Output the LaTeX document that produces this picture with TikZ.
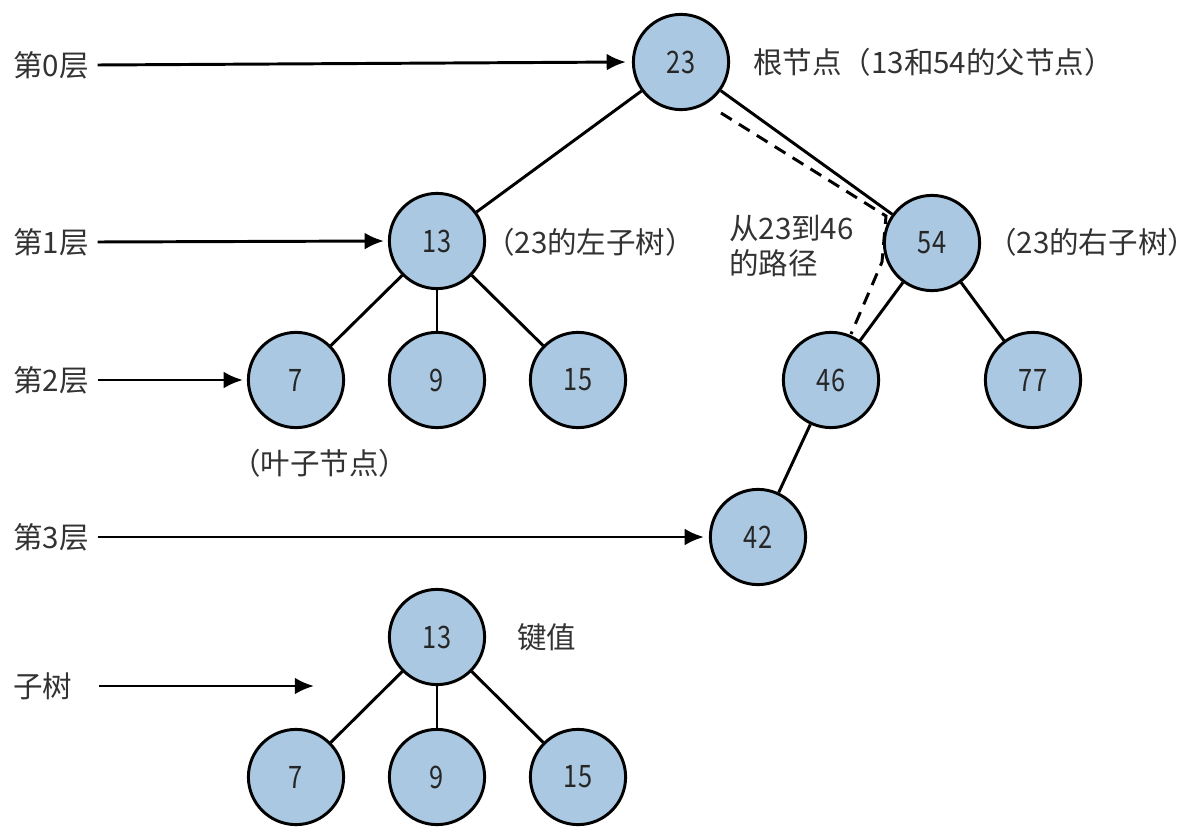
\documentclass[tikz,border=0pt]{standalone}
\usepackage{fontspec}
\setmainfont{Noto Sans CJK SC}
\newfontfamily\keyfont[FakeStretch=0.82]{Noto Sans CJK SC}
\usetikzlibrary{arrows.meta,calc}
\definecolor{keyblue}{RGB}{170,200,225}
\definecolor{txtgray}{RGB}{50,50,50}
\tikzset{
    key/.style={circle,draw=black,line width=2.1pt,fill=keyblue,minimum size=2.38cm,
      inner sep=0pt,text=black!85,font=\keyfont\fontsize{22}{24}\selectfont},
    edge/.style={line width=2.1pt},
    path dash/.style={line width=2.1pt,dash pattern=on 9pt off 6pt},
    levelarrow/.style={line width=2.1pt,-{Latex[length=0.48cm,width=0.42cm]}},
    note/.style={anchor=west,inner sep=2pt,text=txtgray,font=\fontsize{21}{25}\selectfont},
  }
\begin{document}
\begin{tikzpicture}[x=0.025cm,y=-0.025cm]
				  \useasboundingbox (0,0) rectangle (1203,827);
				  %NOEUDS
				  \node[key] (n23) at (681,62) {23};
				  \node[key] (n13) at (437,241) {13};
				  \node[key] (n54) at (932,243) {54};
				  \node[key] (n7) at (296,380) {7};
				  \node[key] (n9) at (437,380) {9};
				  \node[key] (n15) at (578,380) {15};
				  \node[key] (n46) at (831,380) {46};
				  \node[key] (n77) at (1033,380) {77};
				  \node[key] (n42) at (758,537) {42};
				  %ARETES
				  \draw[edge] (n23) -- (n13);
				  \draw[edge] (n23) -- (n54);
				  \draw[edge] (n13) -- (n7);
				  \draw[edge] (n13) -- (n9);
				  \draw[edge] (n13) -- (n15);
				  \draw[edge] (n54) -- (n46);
				  \draw[edge] (n54) -- (n77);
				  \draw[edge] (n46) -- (n42);
				  %CHEMIN 23 -> 46
				  \coordinate (p1) at (721,113);
				  \coordinate (p2) at (886,216);
				  \coordinate (p3) at (882,262);
				  \coordinate (p4) at (851,334);
				  \draw[path dash] (p1) -- (p2) -- (p3) -- (p4);
				  %NIVEAUX
				  \node[note] (l0) at (10,65) {第0层};
				  \node[note] (l1) at (10,242) {第1层};
				  \node[note] (l2) at (10,380) {第2层};
				  \node[note] (l3) at (10,537) {第3层};
				  \draw[levelarrow] ($(l0.east)+(6,0)$) -- ($(n23.west)+(-6,0)$);
				  \draw[levelarrow] ($(l1.east)+(6,0)$) -- ($(n13.west)+(-4,0)$);
				  \draw[levelarrow] ($(l2.east)+(6,0)$) -- ($(n7.west)+(-4,0)$);
				  \draw[levelarrow] ($(l3.east)+(6,0)$) -- ($(n42.west)+(-5,0)$);
				  %TEXTES
				  \node[note] (root) at (750,62) {根节点（13和54的父节点）};
				  \node[note] (left) at (482,242) {（23的左子树）};
				  \node[note] (right) at (984,242) {（23的右子树）};
				  \node[note,align=left] (way) at (726,246) {从23到46\\的路径};
				  \node[note] (leaf) at (228,463) {（叶子节点）};
				  %SOUS-ARBRE
				  \node[key] (s13) at (437,637) {13};
				  \node[key] (s7) at (296,777) {7};
				  \node[key] (s9) at (437,777) {9};
				  \node[key] (s15) at (578,777) {15};
				  \draw[edge] (s13) -- (s7);
				  \draw[edge] (s13) -- (s9);
				  \draw[edge] (s13) -- (s15);
				  \node[note] (val) at (514,637) {键值};
				  \node[note] (sub) at (10,686) {子树};
				  \coordinate (subend) at (314,686);
				  \draw[levelarrow] ($(sub.east)+(24,0)$) -- (subend);
\end{tikzpicture}
\end{document}
